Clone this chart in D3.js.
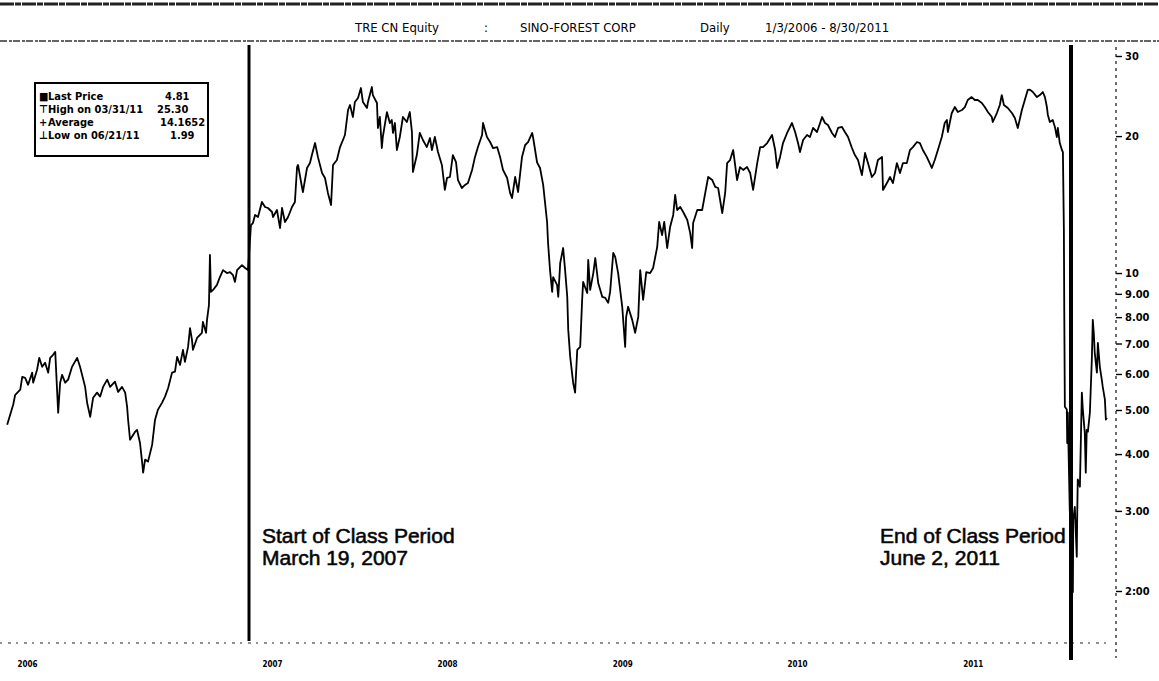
<!DOCTYPE html>
<html>
<head>
<meta charset="utf-8">
<script src="https://cdn.jsdelivr.net/npm/d3@7"></script>
<style>
  body { margin: 0; background: #fff; }
  svg { display: block; }
  text { fill: #000; }
</style>
</head>
<body>
<svg id="chart" width="1159" height="681"></svg>
<script>
// daily closes, time as fractional year, price in CAD
const preClassT = [
  2005.973, 2006.004, 2006.014, 2006.040, 2006.050, 2006.065, 2006.080, 2006.101, 2006.106, 2006.126,
  2006.137, 2006.152, 2006.167, 2006.183, 2006.193, 2006.208, 2006.219, 2006.229, 2006.234, 2006.244,
  2006.254, 2006.270, 2006.285, 2006.305, 2006.331, 2006.346, 2006.372, 2006.382, 2006.398, 2006.413,
  2006.433, 2006.449, 2006.464, 2006.485, 2006.500, 2006.525, 2006.541, 2006.561, 2006.577, 2006.587,
  2006.592, 2006.602, 2006.628, 2006.638, 2006.653, 2006.664, 2006.669, 2006.679, 2006.694, 2006.715,
  2006.730, 2006.745, 2006.766, 2006.781, 2006.797, 2006.817, 2006.832, 2006.843, 2006.858, 2006.873,
  2006.883, 2006.899, 2006.909, 2006.919, 2006.924, 2006.945, 2006.970, 2006.975, 2006.991, 2006.996,
  2007.006, 2007.011, 2007.016, 2007.027, 2007.047, 2007.062, 2007.078, 2007.098, 2007.114, 2007.129,
  2007.139, 2007.150, 2007.175, 2007.191, 2007.206
];
const preClassP = [
  4.64, 5.14, 5.40, 5.54, 5.91, 5.88, 5.68, 6.04, 5.74, 6.13,
  6.51, 6.22, 6.35, 6.04, 6.51, 6.61, 6.71, 5.46, 4.93, 5.74,
  5.97, 5.74, 5.83, 6.22, 6.51, 6.22, 5.62, 5.19, 4.83, 5.32,
  5.46, 5.35, 5.62, 5.83, 5.62, 5.77, 5.48, 5.62, 5.46, 5.08,
  4.76, 4.30, 4.48, 4.52, 4.23, 3.83, 3.64, 3.89, 3.85, 4.19,
  4.76, 5.01, 5.19, 5.35, 5.59, 6.04, 6.07, 6.54, 6.28, 6.78,
  6.38, 6.88, 7.57, 7.13, 6.78, 7.20, 7.39, 7.81, 7.39, 7.89,
  8.51, 10.96, 9.09, 9.18, 9.42, 9.80, 10.15, 10.00, 10.05, 9.90,
  9.56, 10.15, 10.41, 10.26, 10.15
];

const t0708 = [
  2007.221, 2007.231, 2007.242, 2007.257, 2007.277, 2007.293, 2007.308, 2007.329, 2007.334, 2007.354,
  2007.370, 2007.380, 2007.395, 2007.411, 2007.431, 2007.446, 2007.457, 2007.462, 2007.482, 2007.487,
  2007.508, 2007.523, 2007.533, 2007.549, 2007.564, 2007.585, 2007.600, 2007.615, 2007.631, 2007.641,
  2007.661, 2007.677, 2007.692, 2007.702, 2007.718, 2007.728, 2007.743, 2007.753, 2007.769, 2007.784,
  2007.794, 2007.815, 2007.820, 2007.840, 2007.845, 2007.866, 2007.871, 2007.881, 2007.891, 2007.896,
  2007.917, 2007.932, 2007.942, 2007.948, 2007.958, 2007.968, 2007.983, 2007.999, 2008.019, 2008.034,
  2008.045, 2008.050, 2008.070, 2008.085, 2008.101, 2008.121, 2008.137, 2008.147, 2008.162, 2008.178,
  2008.198, 2008.213, 2008.224, 2008.239, 2008.254, 2008.270, 2008.280, 2008.300, 2008.316, 2008.331,
  2008.352, 2008.367, 2008.382, 2008.403, 2008.408, 2008.428, 2008.444, 2008.459, 2008.480, 2008.495,
  2008.510, 2008.531, 2008.546, 2008.556, 2008.572, 2008.587, 2008.607, 2008.623, 2008.638, 2008.659,
  2008.664, 2008.684, 2008.699, 2008.715, 2008.735, 2008.740, 2008.750, 2008.761, 2008.766, 2008.786,
  2008.792, 2008.802, 2008.817, 2008.827, 2008.838, 2008.843, 2008.853, 2008.868, 2008.878, 2008.889,
  2008.904, 2008.914, 2008.919, 2008.940, 2008.945, 2008.955, 2008.971, 2008.981, 2008.996
];
const p0708 = [
  12.75, 12.88, 13.42, 13.28, 14.33, 13.97, 13.90, 13.62, 13.28, 13.76,
  12.56, 13.90, 12.95, 13.28, 13.97, 14.33, 17.10, 17.28, 15.46, 15.07,
  17.02, 17.45, 18.17, 19.31, 17.98, 16.59, 16.18, 15.00, 14.11, 17.28,
  17.72, 18.92, 19.61, 20.11, 22.82, 23.41, 22.03, 23.77, 24.25, 25.51,
  23.77, 23.06, 23.77, 25.64, 24.62, 23.65, 20.84, 22.03, 18.83, 19.91,
  22.59, 21.37, 21.70, 20.32, 21.37, 18.64, 19.91, 22.03, 21.48, 22.59,
  20.42, 16.68, 18.17, 20.32, 19.61, 18.92, 19.81, 18.64, 19.91, 18.45,
  17.28, 15.23, 16.18, 16.26, 18.17, 17.54, 16.01, 15.38, 15.62, 15.77,
  16.85, 18.00, 18.92, 20.11, 21.37, 19.91, 19.41, 18.83, 18.92, 18.00,
  16.85, 16.18, 15.00, 14.62, 16.26, 15.07, 18.00, 19.12, 19.41, 20.32,
  19.81, 17.50, 17.02, 15.62, 12.95, 11.64, 10.15, 9.09, 9.80, 9.42,
  8.86, 10.52, 11.35, 10.15, 8.86, 7.50, 6.54, 5.74, 5.46, 6.78,
  6.88, 8.73, 9.56, 9.04, 10.69, 9.18, 10.00, 10.79, 9.51
];

const t2009 = [
  2009.017, 2009.032, 2009.047, 2009.057, 2009.073, 2009.083, 2009.098, 2009.119, 2009.134, 2009.139,
  2009.149, 2009.170, 2009.185, 2009.201, 2009.211, 2009.226, 2009.242, 2009.262, 2009.277, 2009.298,
  2009.308, 2009.323, 2009.334, 2009.349, 2009.364, 2009.380, 2009.390, 2009.400, 2009.416, 2009.431,
  2009.452, 2009.467, 2009.477, 2009.482, 2009.503, 2009.528, 2009.544, 2009.559, 2009.580, 2009.595,
  2009.610, 2009.631, 2009.646, 2009.656, 2009.671, 2009.687, 2009.707, 2009.722, 2009.738, 2009.758,
  2009.774, 2009.789, 2009.810, 2009.825, 2009.840, 2009.861, 2009.886, 2009.902, 2009.912, 2009.927,
  2009.942, 2009.963, 2009.988, 2010.004, 2010.019
];
const p2009 = [
  8.86, 8.82, 8.60, 9.09, 11.07, 10.85, 10.00, 8.43, 6.88, 8.01,
  8.43, 7.89, 7.39, 8.01, 10.15, 8.73, 10.05, 10.00, 10.26, 11.41,
  12.95, 12.12, 12.95, 11.35, 12.62, 13.42, 14.85, 13.76, 13.97, 13.62,
  13.08, 12.24, 11.35, 12.88, 13.76, 13.76, 15.00, 16.26, 16.01, 15.46,
  15.38, 13.55, 15.00, 17.45, 17.72, 18.64, 16.01, 17.10, 16.85, 17.10,
  16.59, 15.23, 17.45, 18.92, 18.92, 19.31, 20.11, 18.64, 17.02, 18.00,
  19.31, 20.32, 21.37, 20.42, 19.31
];

const t2010 = [
  2010.029, 2010.045, 2010.065, 2010.080, 2010.096, 2010.116, 2010.132, 2010.142, 2010.157, 2010.172,
  2010.193, 2010.208, 2010.224, 2010.244, 2010.259, 2010.275, 2010.295, 2010.310, 2010.326, 2010.346,
  2010.362, 2010.377, 2010.397, 2010.413, 2010.428, 2010.449, 2010.454, 2010.474, 2010.490, 2010.505,
  2010.525, 2010.541, 2010.556, 2010.576, 2010.592, 2010.607, 2010.628, 2010.643, 2010.658, 2010.678,
  2010.704, 2010.719, 2010.735, 2010.755, 2010.770, 2010.781, 2010.786, 2010.806, 2010.822, 2010.837,
  2010.858, 2010.873, 2010.888, 2010.908, 2010.924, 2010.939, 2010.960, 2010.975, 2010.991, 2011.011,
  2011.016, 2011.037, 2011.052, 2011.062, 2011.073, 2011.093, 2011.114, 2011.129, 2011.144, 2011.165,
  2011.180, 2011.195, 2011.206, 2011.221, 2011.242, 2011.257, 2011.272, 2011.283, 2011.293, 2011.298,
  2011.308, 2011.323, 2011.334, 2011.344, 2011.349, 2011.359, 2011.370, 2011.375
];
const p2010 = [
  18.45, 19.61, 20.11, 19.91, 20.84, 20.42, 21.37, 22.03, 21.37, 21.16,
  20.32, 19.91, 20.84, 20.95, 20.42, 19.91, 18.83, 18.17, 17.72, 16.42,
  18.36, 17.45, 16.26, 16.59, 17.72, 18.00, 15.23, 15.77, 16.26, 15.77,
  17.45, 16.59, 17.45, 17.45, 18.64, 18.92, 19.41, 19.31, 18.64, 18.00,
  17.02, 17.72, 18.64, 19.91, 21.37, 21.70, 20.42, 22.48, 23.17, 22.59,
  22.82, 23.17, 24.01, 24.37, 24.01, 24.01, 23.65, 23.17, 22.59, 22.03,
  21.48, 22.48, 23.41, 24.62, 23.41, 23.06, 22.48, 21.92, 20.84, 22.82,
  24.01, 25.26, 25.30, 25.00, 24.37, 24.62, 25.00, 24.37, 23.17, 22.26,
  21.48, 21.70, 20.95, 19.91, 20.84, 19.31, 18.64, 18.45
];

const tCrash = [
  2011.380, 2011.382, 2011.385, 2011.395, 2011.397, 2011.400, 2011.410, 2011.421, 2011.426, 2011.428,
  2011.436, 2011.446, 2011.448, 2011.451, 2011.462, 2011.467, 2011.472, 2011.477, 2011.487, 2011.492,
  2011.497, 2011.503, 2011.513, 2011.523, 2011.528, 2011.533, 2011.538, 2011.549, 2011.554, 2011.564,
  2011.574, 2011.579, 2011.590, 2011.595, 2011.600
];
const pCrash = [
  12.44, 8.18, 5.08, 5.01, 4.23, 4.93, 3.02, 2.60, 1.99, 2.87,
  3.06, 2.38, 2.87, 3.52, 3.39, 4.30, 5.46, 5.01, 4.45, 3.64,
  4.52, 4.48, 4.93, 6.44, 7.89, 7.39, 6.68, 6.04, 7.02, 6.22,
  5.83, 5.62, 5.27, 4.76, 4.81
];

const yTicks = [30, 20, 10, 9, 8, 7, 6, 5, 4, 3, 2];
const yTickLabels = ['30', '20', '10', '9.00', '8.00', '7.00', '6.00', '5.00', '4.00', '3.00', '2:00'];
// year labels sit where the scan prints them
const xTickYears = [2006.075, 2007.329, 2008.224, 2009.119, 2010.014, 2010.914];
const xTickLabels = ['2006', '2007', '2008', '2009', '2010', '2011'];

const legendSymbols = ['\u25A0', '\u22A4', '+', '\u22A5'];
const legendNames = ['Last Price', 'High on 03/31/11', 'Average', 'Low on 06/21/11'];
const legendValues = ['4.81', '25.30', '14.1652', '1.99'];

const classDates = ['2007-03-19', '2011-06-02'];
const classNotes = [['Start of Class Period', 'March 19, 2007'], ['End of Class Period', 'June 2, 2011']];

const W = 1159, H = 681;
const MONO = '"DejaVu Sans Condensed","DejaVu Sans",sans-serif';
const SANS = '"Liberation Sans", Arial, sans-serif';

function fromYear(v) {
  const yr = Math.floor(v);
  const a = Date.UTC(yr, 0, 1), b = Date.UTC(yr + 1, 0, 1);
  return new Date(a + (v - yr) * (b - a));
}

const series = [];
[[preClassT, preClassP], [t0708, p0708], [t2009, p2009], [t2010, p2010], [tCrash, pCrash]]
  .forEach(([ts, ps]) => ts.forEach((t, i) => series.push({ date: fromYear(t), price: ps[i] })));

const classStart = new Date(classDates[0] + 'T00:00:00Z');
const classEnd = new Date(classDates[1] + 'T00:00:00Z');

const x = d3.scaleUtc().domain([classStart, classEnd]).range([249, 1071]);
const y = d3.scaleLog().domain([2, 30]).range([591, 56]);

const svg = d3.select('#chart');
svg.append('rect').attr('width', W).attr('height', H).attr('fill', '#fff');

// header rules
svg.append('line').attr('x1', 0).attr('x2', W).attr('y1', 4).attr('y2', 4)
  .attr('stroke', '#222').attr('stroke-width', 3).attr('stroke-dasharray', '14,1,6,1');
svg.append('line').attr('x1', 0).attr('x2', W).attr('y1', 41).attr('y2', 41)
  .attr('stroke', '#333').attr('stroke-width', 1.4).attr('stroke-dasharray', '7,2,3,1');

// title
const titleParts = [[355, 'TRE CN Equity'], [484, ':'], [520, 'SINO-FOREST CORP'], [700, 'Daily'], [765, '1/3/2006 - 8/30/2011']];
titleParts.forEach(([tx, s]) => {
  svg.append('text').attr('x', tx).attr('y', 32).text(s)
    .style('font-family', MONO).style('font-size', '13px');
});

// bottom axis
const xAxis = d3.axisBottom(x)
  .tickValues(xTickYears.map(fromYear))
  .tickFormat((d, i) => xTickLabels[i])
  .tickSize(0).tickPadding(18);
const gx = svg.append('g').attr('transform', 'translate(0,643)').call(xAxis);
gx.select('.domain').remove();
gx.selectAll('text').style('font-size', '8px').style('font-weight', 'bold').style('font-family', MONO);
svg.append('line').attr('x1', 0).attr('x2', 1112).attr('y1', 643).attr('y2', 643)
  .attr('stroke', '#222').attr('stroke-width', 1.2).attr('stroke-dasharray', '2,6,3,5');

// right axis
const yAxis = d3.axisRight(y)
  .tickValues(yTicks)
  .tickFormat((d, i) => yTickLabels[i])
  .tickSize(6).tickPadding(3);
const gy = svg.append('g').attr('transform', 'translate(1116,0)').call(yAxis);
gy.select('.domain').remove();
gy.selectAll('.tick line').attr('stroke', '#000').attr('stroke-width', 1.4);
gy.selectAll('text').style('font-size', '11px').style('font-weight', 'bold').style('font-family', MONO);
svg.append('line').attr('x1', 1116).attr('x2', 1116).attr('y1', 47).attr('y2', 658)
  .attr('stroke', '#222').attr('stroke-width', 1.3).attr('stroke-dasharray', '3,4');

// price line
const line = d3.line().x(d => x(d.date)).y(d => y(d.price));
svg.append('path').datum(series)
  .attr('d', line)
  .attr('fill', 'none')
  .attr('stroke', '#000')
  .attr('stroke-width', 1.8)
  .attr('stroke-linejoin', 'round');

// class period markers
svg.append('line').attr('x1', x(classStart)).attr('x2', x(classStart)).attr('y1', 45).attr('y2', 641)
  .attr('stroke', '#000').attr('stroke-width', 3);
svg.append('line').attr('x1', x(classEnd)).attr('x2', x(classEnd)).attr('y1', 45).attr('y2', 660)
  .attr('stroke', '#000').attr('stroke-width', 4);

[[262, classNotes[0]], [880, classNotes[1]]].forEach(([nx, lines]) => {
  lines.forEach((s, i) => {
    svg.append('text').attr('x', nx).attr('y', 543 + i * 22).text(s)
      .style('font-family', SANS).style('font-size', '21px')
      .attr('fill', '#111').attr('stroke', '#111').attr('stroke-width', 0.6);
  });
});

// legend box
const lg = svg.append('g');
lg.append('rect').attr('x', 35).attr('y', 83).attr('width', 173).attr('height', 73)
  .attr('fill', '#fff').attr('stroke', '#000').attr('stroke-width', 2);
const valueX = [165, 157, 160, 170];
legendNames.forEach((name, i) => {
  const ry = 100 + i * 13;
  [[39, legendSymbols[i]], [48, name], [valueX[i], legendValues[i]]].forEach(([lx, s]) => {
    lg.append('text').attr('x', lx).attr('y', ry).text(s)
      .style('font-family', MONO).style('font-size', '11px').style('font-weight', 'bold');
  });
});
</script>
</body>
</html>
